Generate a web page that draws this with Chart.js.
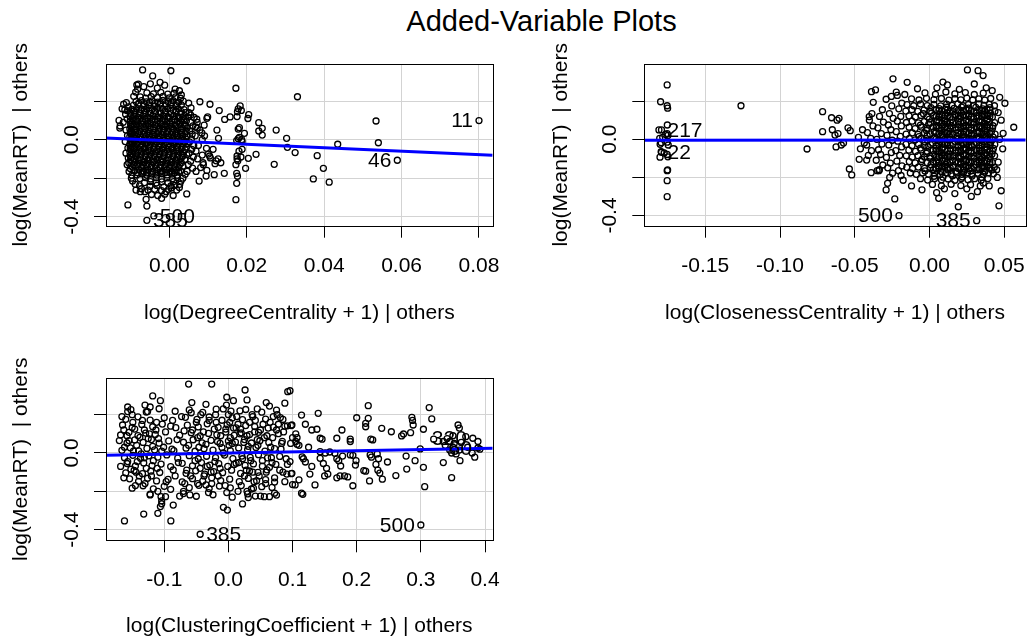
<!DOCTYPE html>
<html>
<head>
<meta charset="utf-8">
<script src="https://cdn.jsdelivr.net/npm/chart.js@4.4.1/dist/chart.umd.min.js"></script>
<style>
  html, body { margin: 0; padding: 0; background: #fff; }
  body { width: 1031px; height: 639px; position: relative; overflow: hidden; font-family: "Liberation Sans", Arial, sans-serif; }
  canvas { position: absolute; left: 0; top: 0; }
  #title { position: absolute; left: 0; top: 7px; width: 1083px; text-align: center; font-size: 29px; line-height: 1; color: #000; }
</style>
</head>
<body>
<div id="title">Added-Variable Plots</div>
<canvas id="degree" width="1031" height="639"></canvas>
<canvas id="closeness" width="1031" height="639"></canvas>
<canvas id="clustering" width="1031" height="639"></canvas>
<script>
const FONT = "'Liberation Sans', Arial, sans-serif";
Chart.defaults.font.family = FONT;

const yTitle = 'log(MeanRT)  | others';
const yTicks = [-0.4, -0.2, 0, 0.2];
const yTickLabels = ['-0.4', '', '0.0', ''];

// ---- log(DegreeCentrality + 1) | others
const degreeTicks = [0, 0.02, 0.04, 0.06, 0.08];
const degreeTickLabels = ['0.00', '0.02', '0.04', '0.06', '0.08'];
const degreeFit = [[-0.0164, 0.009], [0.0835, -0.081]];
const degreeIds = [
  { id: '11', x: 0.080, y: 0.099 }, { id: '46', x: 0.0589, y: -0.107 },
  { id: '500', x: -0.0040, y: -0.396 }, { id: '385', x: -0.0058, y: -0.419 }
];
const degreePoints = [
  [-0.0058,0.243],[-0.0041,0.238],[-0.0022,0.246],[-0.0004,0.236],[0.0012,0.241],
  [-0.0075,0.222],[-0.0061,0.216],[-0.0047,0.224],[-0.0031,0.218],[-0.0016,0.225],[0.0000,0.217],[0.0016,0.222],[0.0029,0.215],
  [-0.0086,0.198],[-0.0072,0.203],[-0.0059,0.196],[-0.0044,0.201],[-0.0030,0.195],[-0.0017,0.204],[-0.0003,0.197],[0.0010,0.202],[0.0024,0.195],[0.0036,0.2],
  [-0.0093,0.178],[-0.0080,0.183],[-0.0066,0.176],[-0.0052,0.181],[-0.0038,0.175],[-0.0024,0.184],[-0.0010,0.177],[0.0004,0.182],[0.0018,0.176],[0.0031,0.181],
  [-0.0097,0.157],[-0.0085,0.162],[-0.0072,0.155],[-0.0059,0.161],[-0.0045,0.156],[-0.0031,0.163],[-0.0017,0.157],[-0.0004,0.161],[0.0010,0.154],[0.0024,0.16],[0.0038,0.156],
  [-0.0100,0.137],[-0.0088,0.142],[-0.0075,0.135],[-0.0062,0.141],[-0.0049,0.136],[-0.0036,0.143],[-0.0023,0.137],[-0.0010,0.141],[0.0004,0.135],[0.0017,0.142],[0.0030,0.137],[0.0042,0.14],
  [-0.0101,0.118],[-0.0092,0.123],[-0.0080,0.116],[-0.0067,0.121],[-0.0055,0.115],[-0.0042,0.122],[-0.0029,0.117],[-0.0016,0.123],[-0.0003,0.116],[0.0010,0.121],[0.0023,0.115],[0.0036,0.12],
  [-0.0101,0.097],[-0.0093,0.102],[-0.0081,0.095],[-0.0069,0.101],[-0.0056,0.096],[-0.0044,0.103],[-0.0031,0.097],[-0.0018,0.101],[-0.0006,0.094],[0.0007,0.1],[0.0020,0.095],[0.0032,0.102],[0.0044,0.097],
  [-0.0100,0.078],[-0.0095,0.083],[-0.0084,0.076],[-0.0072,0.081],[-0.0060,0.075],[-0.0048,0.082],[-0.0036,0.077],[-0.0023,0.083],[-0.0011,0.076],[0.0001,0.081],[0.0014,0.075],[0.0027,0.08],[0.0039,0.077],
  [-0.0102,0.057],[-0.0096,0.062],[-0.0085,0.055],[-0.0073,0.061],[-0.0061,0.056],[-0.0049,0.063],[-0.0037,0.057],[-0.0025,0.061],[-0.0013,0.054],[-0.0001,0.06],[0.0011,0.055],[0.0023,0.062],[0.0035,0.057],[0.0046,0.06],
  [-0.0101,0.038],[-0.0097,0.043],[-0.0087,0.036],[-0.0076,0.041],[-0.0064,0.035],[-0.0052,0.042],[-0.0040,0.037],[-0.0028,0.043],[-0.0016,0.036],[-0.0004,0.041],[0.0008,0.035],[0.0020,0.04],[0.0032,0.037],[0.0043,0.042],
  [-0.0102,0.017],[-0.0096,0.022],[-0.0085,0.015],[-0.0074,0.021],[-0.0062,0.016],[-0.0050,0.023],[-0.0038,0.017],[-0.0026,0.021],[-0.0014,0.014],[-0.0002,0.02],[0.0010,0.015],[0.0022,0.022],[0.0034,0.017],[0.0046,0.02],
  [-0.0101,-0.002],[-0.0097,0.003],[-0.0087,-0.004],[-0.0076,0.001],[-0.0064,-0.005],[-0.0052,0.002],[-0.0040,-0.003],[-0.0028,0.003],[-0.0016,-0.004],[-0.0004,0.001],[0.0008,-0.005],[0.0020,0.0],[0.0032,-0.003],[0.0043,0.002],
  [-0.0102,-0.023],[-0.0095,-0.018],[-0.0084,-0.025],[-0.0073,-0.019],[-0.0061,-0.024],[-0.0049,-0.017],[-0.0037,-0.023],[-0.0025,-0.019],[-0.0013,-0.026],[-0.0001,-0.02],[0.0011,-0.025],[0.0023,-0.018],[0.0035,-0.023],[0.0046,-0.02],
  [-0.0101,-0.042],[-0.0096,-0.037],[-0.0086,-0.044],[-0.0075,-0.039],[-0.0063,-0.045],[-0.0051,-0.038],[-0.0039,-0.043],[-0.0027,-0.037],[-0.0015,-0.044],[-0.0003,-0.039],[0.0009,-0.045],[0.0021,-0.04],[0.0033,-0.043],[0.0044,-0.038],
  [-0.0102,-0.063],[-0.0094,-0.058],[-0.0083,-0.065],[-0.0072,-0.059],[-0.0060,-0.064],[-0.0048,-0.057],[-0.0036,-0.063],[-0.0024,-0.059],[-0.0012,-0.066],[0.0000,-0.06],[0.0012,-0.065],[0.0024,-0.058],[0.0036,-0.063],
  [-0.0101,-0.082],[-0.0094,-0.077],[-0.0084,-0.084],[-0.0073,-0.079],[-0.0061,-0.085],[-0.0049,-0.078],[-0.0037,-0.083],[-0.0025,-0.077],[-0.0013,-0.084],[-0.0001,-0.079],[0.0011,-0.085],[0.0023,-0.08],[0.0035,-0.083],[0.0045,-0.078],
  [-0.0100,-0.103],[-0.0091,-0.098],[-0.0080,-0.105],[-0.0068,-0.099],[-0.0056,-0.104],[-0.0044,-0.097],[-0.0032,-0.103],[-0.0020,-0.099],[-0.0008,-0.106],[0.0004,-0.1],[0.0016,-0.105],[0.0028,-0.098],[0.0040,-0.103],
  [-0.0099,-0.122],[-0.0088,-0.117],[-0.0077,-0.124],[-0.0065,-0.119],[-0.0053,-0.125],[-0.0041,-0.118],[-0.0029,-0.123],[-0.0017,-0.117],[-0.0005,-0.124],[0.0007,-0.119],[0.0019,-0.125],[0.0031,-0.12],
  [-0.0095,-0.143],[-0.0084,-0.138],[-0.0072,-0.145],[-0.0060,-0.139],[-0.0048,-0.144],[-0.0036,-0.137],[-0.0024,-0.143],[-0.0012,-0.139],[0.0000,-0.146],[0.0012,-0.14],[0.0024,-0.145],[0.0035,-0.138],
  [-0.0090,-0.162],[-0.0078,-0.157],[-0.0066,-0.164],[-0.0054,-0.159],[-0.0042,-0.165],[-0.0030,-0.158],[-0.0018,-0.163],[-0.0006,-0.157],[0.0006,-0.164],[0.0018,-0.159],[0.0029,-0.163],
  [-0.0084,-0.183],[-0.0071,-0.178],[-0.0058,-0.185],[-0.0045,-0.179],[-0.0032,-0.184],[-0.0019,-0.177],[-0.0006,-0.183],[0.0007,-0.179],[0.0020,-0.185],
  [-0.0076,-0.202],[-0.0062,-0.197],[-0.0048,-0.204],[-0.0034,-0.198],[-0.0020,-0.205],[-0.0006,-0.199],[0.0008,-0.203],[0.0021,-0.197],
  [-0.0064,-0.223],[-0.0049,-0.218],[-0.0034,-0.225],[-0.0019,-0.219],[-0.0004,-0.224],[0.0011,-0.218],
  [-0.0050,-0.242],[-0.0032,-0.238],[-0.0014,-0.245],[0.0004,-0.24],
  [-0.0079,0.19],[-0.0065,0.187],[-0.0051,0.192],[-0.0037,0.188],[-0.0023,0.191],[-0.0009,0.187],[0.0005,0.192],[0.0019,0.188],
  [-0.0091,0.149],[-0.0078,0.146],[-0.0065,0.151],[-0.0052,0.147],[-0.0038,0.152],[-0.0024,0.146],[-0.0011,0.15],[0.0003,0.147],[0.0017,0.151],[0.0031,0.146],
  [-0.0096,0.109],[-0.0086,0.106],[-0.0074,0.111],[-0.0062,0.107],[-0.0049,0.112],[-0.0037,0.106],[-0.0024,0.11],[-0.0012,0.107],[0.0001,0.111],[0.0014,0.106],[0.0026,0.11],[0.0038,0.107],
  [-0.0098,0.069],[-0.009,0.066],[-0.0078,0.071],[-0.0066,0.067],[-0.0054,0.072],[-0.0042,0.066],[-0.003,0.07],[-0.0018,0.067],[-0.0006,0.071],[0.0006,0.066],[0.0018,0.07],[0.003,0.067],[0.0041,0.071],
  [-0.0099,0.029],[-0.0091,0.026],[-0.008,0.031],[-0.0068,0.027],[-0.0056,0.032],[-0.0044,0.026],[-0.0032,0.03],[-0.002,0.027],[-0.0008,0.031],[0.0004,0.026],[0.0016,0.03],[0.0028,0.027],[0.004,0.031],
  [-0.0099,-0.011],[-0.0091,-0.008],[-0.008,-0.013],[-0.0068,-0.009],[-0.0056,-0.014],[-0.0044,-0.008],[-0.0032,-0.012],[-0.002,-0.009],[-0.0008,-0.013],[0.0004,-0.008],[0.0016,-0.012],[0.0028,-0.009],[0.004,-0.013],
  [-0.0099,-0.051],[-0.009,-0.048],[-0.0078,-0.053],[-0.0066,-0.049],[-0.0054,-0.054],[-0.0042,-0.048],[-0.003,-0.052],[-0.0018,-0.049],[-0.0006,-0.053],[0.0006,-0.048],[0.0018,-0.052],[0.003,-0.049],[0.0041,-0.053],
  [-0.0097,-0.091],[-0.0087,-0.088],[-0.0075,-0.093],[-0.0063,-0.089],[-0.0051,-0.094],[-0.0039,-0.088],[-0.0027,-0.092],[-0.0015,-0.089],[-0.0003,-0.093],[0.0009,-0.088],[0.0021,-0.092],[0.0033,-0.089],
  [-0.0093,-0.131],[-0.0082,-0.128],[-0.007,-0.133],[-0.0058,-0.129],[-0.0046,-0.134],[-0.0034,-0.128],[-0.0022,-0.132],[-0.001,-0.129],[0.0002,-0.133],[0.0014,-0.128],[0.0026,-0.132],
  [-0.0083,-0.171],[-0.0071,-0.168],[-0.0059,-0.173],[-0.0047,-0.169],[-0.0035,-0.174],[-0.0023,-0.168],[-0.0011,-0.172],[0.0001,-0.169],[0.0013,-0.173],[0.0024,-0.168],
  [-0.0082,0.262],[-0.0066,0.275],[-0.0031,0.268],[-0.0012,0.283],[0.0015,0.262],[0.0026,0.254],[-0.0049,0.29],[0.0031,0.232],[-0.0087,0.247],[-0.0092,0.225],
  [-0.0111,0.192],[-0.0118,0.184],[-0.0106,0.17],[-0.0113,0.132],[-0.0109,0.108],[-0.0119,0.09],[-0.0112,0.05],[-0.0108,0.021],[-0.0114,-0.01],[-0.0107,-0.044],
  [-0.0112,-0.07],[-0.0106,-0.095],[-0.0109,-0.13],[-0.0104,-0.165],[-0.0097,-0.185],[-0.0095,-0.215],[-0.0088,-0.232],
  [0.0050,0.19],[0.0056,0.165],[0.0048,0.118],[0.0055,0.09],[0.0061,0.072],[0.0053,0.045],[0.0059,0.028],[0.0057,0.004],[0.0052,-0.012],[0.0063,-0.03],
  [0.0058,-0.05],[0.0051,-0.07],[0.0062,-0.09],[0.0055,-0.112],[0.0049,-0.13],[0.0060,-0.148],[0.0046,-0.165],[0.0041,-0.18],[0.0035,-0.2],[0.0030,-0.215],
  [0.0069,-0.06],[0.0073,-0.1],[0.0067,0.02],[0.0075,-0.03],[0.0081,-0.145],[0.0069,-0.165],[0.0088,-0.13],[0.0064,0.115],[0.0072,0.09],[0.0090,0.075],
  [0.0084,0.035],[0.0096,-0.045],[0.0101,-0.075],[0.0106,-0.095],[0.0113,-0.05],[0.0091,0.02],[0.0118,-0.125],[0.0097,-0.16],
  [-0.0072,-0.255],[-0.0055,-0.262],[-0.0038,-0.258],[-0.0020,-0.265],[-0.0002,-0.258],[0.0014,-0.238],[0.0019,-0.262],[-0.0046,-0.285],[-0.0030,-0.29],[-0.0012,-0.283],[0.0010,-0.29],[-0.0086,-0.262],[0.0026,-0.248],
  [-0.0069,0.362],[0.0004,0.358],[-0.0043,0.331],[-0.0024,0.298],[0.0045,0.306],[0.0172,0.267],[0.0331,0.223],[0.0079,0.197],[0.0105,0.184],[0.0129,0.151],
  [0.0183,0.175],[0.0178,0.16],[0.0176,0.145],[0.0186,0.152],[0.0205,0.13],[0.0203,0.11],[0.0097,0.111],[0.0099,0.118],[0.0071,0.106],[0.0051,0.14],
  [0.0055,0.128],[0.0231,0.088],[0.0240,0.059],[0.0240,0.024],[0.0231,0.045],[0.0276,0.050],[0.0303,0.007],[0.0305,-0.040],[0.0325,-0.067],[0.0435,-0.024],
  [0.0382,-0.083],[0.0398,-0.149],[0.0372,-0.204],[0.0413,-0.221],[0.0271,-0.128],[0.0534,0.097],[0.0540,-0.016],[0.0589,-0.107],[0.080,0.099],[0.0224,-0.076],
  [0.0197,-0.149],[0.0204,-0.097],[0.0185,-0.09],[0.0177,-0.11],[0.0175,-0.085],[0.0180,-0.06],[0.0188,-0.05],[0.0175,-0.1],[0.0178,0.005],[0.0181,0.012],
  [0.0187,0.0],[0.0174,-0.005],[0.0188,-0.01],[0.0194,0.033],[0.0178,0.055],[0.0181,0.062],[0.0174,-0.175],[0.0176,-0.19],[0.0174,-0.227],[0.0172,-0.312],
  [0.0172,-0.13],[0.0116,-0.182],[0.0142,-0.175],[0.0095,-0.189],[0.0077,-0.215],[0.0045,-0.282],[0.0126,-0.10],[0.0133,-0.12],[0.0121,-0.11],[0.0087,-0.12],
  [0.0104,-0.085],[0.0085,-0.08],[0.0127,0.007],[0.0123,0.05],[0.0085,0.0],[0.0079,0.05],[0.0072,0.06],[0.0068,0.066],[0.0143,0.105],[0.0157,0.118],
  [0.0175,0.12],[-0.0107,-0.339],[-0.0127,0.071],[-0.0122,0.16],[-0.0115,0.155],[-0.0108,0.15],[-0.0084,0.284],[-0.0080,0.288],[-0.0060,-0.31],[-0.0058,-0.345],
  [-0.0075,-0.27],[-0.0063,-0.27],[-0.0077,-0.24],[-0.0020,-0.305],[-0.0008,-0.27],[0.0006,-0.25],[0.0027,-0.232],[-0.0105,-0.12],[-0.0101,-0.15],[-0.0098,-0.20],
  [-0.0058,-0.419],[-0.0040,-0.396],[-0.0128,0.06],[-0.0130,0.1]
];

// ---- log(ClosenessCentrality + 1) | others
const closenessTicks = [-0.15, -0.10, -0.05, 0, 0.05];
const closenessTickLabels = ['-0.15', '-0.10', '-0.05', '0.00', '0.05'];
const closenessFit = [[-0.1908, -0.005], [0.0644, -0.004]];
const closenessIds = [
  { id: '217', x: -0.1793, y: 0.049 }, { id: '22', x: -0.1793, y: -0.068 },
  { id: '500', x: -0.0204, y: -0.401 }, { id: '385', x: 0.0316, y: -0.427 }
];
const closenessPoints = [
  [-0.003,0.243],[0.004,0.236],[0.011,0.248],[0.017,0.238],[0.024,0.245],[0.030,0.235],[0.036,0.242],
  [-0.012,0.212],[-0.007,0.206],[-0.002,0.215],[0.003,0.208],[0.008,0.214],[0.013,0.205],[0.017,0.213],[0.021,0.207],[0.025,0.216],[0.029,0.206],[0.033,0.212],[0.037,0.205],[0.041,0.214],
  [-0.015,0.182],[-0.0105,0.176],[-0.006,0.185],[-0.0015,0.177],[0.003,0.183],[0.0075,0.175],[0.0115,0.184],[0.015,0.178],[0.019,0.186],[0.0225,0.176],[0.026,0.182],[0.0295,0.177],[0.033,0.185],[0.0365,0.178],[0.040,0.183],[0.0435,0.176],
  [-0.0158,0.148],[-0.0118,0.155],[-0.0078,0.146],[-0.0036,0.153],[0.0004,0.147],[0.0044,0.156],[0.0082,0.149],[0.0121,0.154],[0.0156,0.145],[0.0192,0.152],[0.0229,0.147],[0.0264,0.155],[0.0297,0.146],[0.0334,0.153],[0.0369,0.148],[0.0404,0.154],[0.0438,0.147],
  [-0.0137,0.123],[-0.0094,0.117],[-0.0056,0.125],[-0.0014,0.118],[0.0026,0.124],[0.0063,0.116],[0.0103,0.122],[0.0138,0.117],[0.0176,0.126],[0.0209,0.118],[0.0246,0.123],[0.0279,0.116],[0.0316,0.124],[0.0349,0.119],[0.0386,0.125],[0.0421,0.117],
  [-0.0154,0.088],[-0.0116,0.095],[-0.0074,0.086],[-0.0034,0.093],[0.0006,0.087],[0.0046,0.094],[0.0084,0.085],[0.0119,0.092],[0.0158,0.087],[0.0194,0.095],[0.0227,0.086],[0.0262,0.093],[0.0299,0.088],[0.0332,0.094],[0.0367,0.085],[0.0402,0.092],[0.0436,0.087],
  [-0.0136,0.063],[-0.0096,0.056],[-0.0054,0.064],[-0.0016,0.057],[0.0024,0.065],[0.0065,0.058],[0.0101,0.063],[0.0140,0.055],[0.0174,0.062],[0.0211,0.057],[0.0244,0.066],[0.0281,0.058],[0.0314,0.063],[0.0351,0.056],[0.0384,0.064],[0.0422,0.058],
  [-0.0156,0.027],[-0.0114,0.034],[-0.0076,0.026],[-0.0033,0.033],[0.0005,0.028],[0.0043,0.035],[0.0085,0.026],[0.0120,0.032],[0.0155,0.027],[0.0195,0.034],[0.0228,0.025],[0.0265,0.033],[0.0298,0.028],[0.0333,0.035],[0.0370,0.026],[0.0403,0.033],[0.0439,0.027],
  [-0.0134,0.004],[-0.0095,-0.003],[-0.0057,0.005],[-0.0013,-0.004],[0.0027,0.003],[0.0062,-0.005],[0.0104,0.002],[0.0137,-0.003],[0.0177,0.005],[0.0208,-0.004],[0.0247,0.003],[0.0278,-0.002],[0.0317,0.004],[0.0348,-0.005],[0.0387,0.002],[0.0420,-0.003],
  [-0.0157,-0.027],[-0.0117,-0.034],[-0.0073,-0.026],[-0.0035,-0.033],[0.0007,-0.028],[0.0045,-0.035],[0.0083,-0.025],[0.0122,-0.032],[0.0157,-0.027],[0.0191,-0.034],[0.0230,-0.026],[0.0263,-0.033],[0.0300,-0.028],[0.0331,-0.035],[0.0368,-0.026],[0.0405,-0.032],[0.0437,-0.027],
  [-0.0138,-0.057],[-0.0093,-0.064],[-0.0055,-0.056],[-0.0015,-0.063],[0.0025,-0.058],[0.0064,-0.065],[0.0102,-0.056],[0.0139,-0.062],[0.0175,-0.057],[0.0210,-0.064],[0.0245,-0.055],[0.0280,-0.063],[0.0315,-0.058],[0.0350,-0.064],[0.0385,-0.056],[0.0423,-0.062],
  [-0.0155,-0.087],[-0.0115,-0.094],[-0.0077,-0.086],[-0.0034,-0.093],[0.0004,-0.088],[0.0046,-0.095],[0.0082,-0.085],[0.0121,-0.092],[0.0158,-0.087],[0.0193,-0.094],[0.0229,-0.086],[0.0262,-0.093],[0.0298,-0.088],[0.0334,-0.095],[0.0367,-0.086],[0.0404,-0.092],[0.0436,-0.087],
  [-0.0135,-0.117],[-0.0096,-0.124],[-0.0054,-0.116],[-0.0014,-0.123],[0.0026,-0.118],[0.0063,-0.125],[0.0103,-0.116],[0.0138,-0.122],[0.0176,-0.117],[0.0209,-0.124],[0.0246,-0.115],[0.0279,-0.123],[0.0316,-0.118],[0.0349,-0.125],[0.0386,-0.116],[0.0421,-0.122],
  [-0.0152,-0.147],[-0.0113,-0.154],[-0.0075,-0.146],[-0.0033,-0.153],[0.0006,-0.148],[0.0044,-0.155],[0.0084,-0.146],[0.0120,-0.152],[0.0156,-0.147],[0.0194,-0.154],[0.0228,-0.145],[0.0263,-0.153],[0.0299,-0.148],[0.0332,-0.155],[0.0368,-0.146],[0.0402,-0.152],[0.0434,-0.147],
  [-0.0128,-0.177],[-0.0088,-0.184],[-0.0046,-0.176],[-0.0006,-0.183],[0.0033,-0.178],[0.0072,-0.185],[0.0110,-0.176],[0.0146,-0.182],[0.0183,-0.177],[0.0217,-0.184],[0.0254,-0.175],[0.0288,-0.183],[0.0324,-0.178],[0.0360,-0.184],[0.0396,-0.176],[0.0428,-0.181],
  [-0.0060,-0.207],[-0.0012,-0.214],[0.0035,-0.206],[0.0080,-0.213],[0.0125,-0.208],[0.0170,-0.215],[0.0214,-0.206],[0.0258,-0.212],[0.0302,-0.207],[0.0347,-0.214],[0.0391,-0.206],
  [0.002,-0.237],[0.008,-0.244],[0.0145,-0.236],[0.021,-0.243],[0.0275,-0.238],[0.034,-0.245],
  [0.001,0.166],[0.0065,0.161],[0.0115,0.168],[0.0165,0.162],[0.0215,0.169],[0.0262,0.163],[0.031,0.167],[0.0357,0.16],[0.0405,0.166],
  [-0.004,0.134],[0.0015,0.139],[0.0068,0.132],[0.0118,0.138],[0.0168,0.131],[0.0213,0.137],[0.0264,0.133],[0.0312,0.14],[0.0358,0.132],[0.0408,0.137],
  [0.000,0.106],[0.0052,0.1],[0.0101,0.108],[0.0148,0.102],[0.0199,0.109],[0.0247,0.101],[0.0295,0.107],[0.0342,0.1],[0.039,0.105],
  [-0.006,0.074],[-0.0005,0.079],[0.0048,0.072],[0.0097,0.078],[0.0146,0.071],[0.0195,0.077],[0.0243,0.073],[0.0291,0.08],[0.0339,0.072],[0.0388,0.077],[0.0425,0.071],
  [-0.002,0.046],[0.0032,0.04],[0.0081,0.048],[0.013,0.041],[0.018,0.049],[0.0228,0.042],[0.0277,0.047],[0.0324,0.04],[0.0372,0.046],[0.0415,0.041],
  [-0.007,0.014],[-0.0015,0.019],[0.0035,0.012],[0.0087,0.018],[0.0135,0.011],[0.0186,0.017],[0.0233,0.013],[0.0283,0.02],[0.0329,0.012],[0.0378,0.017],[0.0426,0.011],
  [-0.003,-0.014],[0.002,-0.02],[0.007,-0.012],[0.012,-0.018],[0.017,-0.011],[0.0218,-0.019],[0.0267,-0.013],[0.0315,-0.02],[0.0362,-0.012],[0.041,-0.017],
  [-0.006,-0.046],[-0.001,-0.04],[0.0043,-0.048],[0.0092,-0.041],[0.0141,-0.049],[0.019,-0.042],[0.0238,-0.047],[0.0286,-0.04],[0.0334,-0.046],[0.0382,-0.041],[0.0428,-0.048],
  [-0.002,-0.074],[0.003,-0.079],[0.008,-0.072],[0.013,-0.078],[0.018,-0.071],[0.0228,-0.077],[0.0277,-0.073],[0.0325,-0.08],[0.0373,-0.072],[0.0418,-0.078],
  [-0.005,-0.106],[0.0005,-0.1],[0.0055,-0.108],[0.0104,-0.101],[0.0152,-0.109],[0.0201,-0.102],[0.0249,-0.107],[0.0297,-0.1],[0.0345,-0.106],[0.0393,-0.101],
  [0.001,-0.134],[0.006,-0.139],[0.011,-0.132],[0.016,-0.138],[0.021,-0.131],[0.0258,-0.137],[0.0307,-0.133],[0.0355,-0.14],[0.0403,-0.132],
  [-0.003,-0.166],[0.0025,-0.16],[0.0075,-0.168],[0.0126,-0.161],[0.0177,-0.169],[0.0226,-0.162],[0.0275,-0.167],[0.0324,-0.16],[0.0372,-0.166],[0.0418,-0.161],
  [0.003,-0.194],[0.009,-0.199],[0.0155,-0.192],[0.022,-0.198],[0.0285,-0.193],[0.035,-0.2],
  [0.0063,0.151],[0.0139,0.15],[0.021,0.152],[0.028,0.149],[0.0351,0.151],[0.0105,0.158],[0.0245,0.157],[0.0385,0.158],
  [0.0045,0.121],[0.012,0.12],[0.0193,0.121],[0.0262,0.12],[0.0333,0.121],[0.0404,0.12],[0.0085,0.128],[0.0228,0.128],[0.0368,0.129],
  [0.0063,0.091],[0.0139,0.09],[0.021,0.091],[0.028,0.09],[0.0351,0.091],[0.0105,0.098],[0.0245,0.097],[0.0385,0.098],
  [0.0045,0.061],[0.012,0.06],[0.0193,0.061],[0.0262,0.06],[0.0333,0.061],[0.0404,0.06],[0.0085,0.068],[0.0228,0.067],[0.0368,0.068],
  [0.0063,0.031],[0.0139,0.03],[0.021,0.031],[0.028,0.03],[0.0351,0.031],[0.0105,0.038],[0.0245,0.037],[0.0385,0.038],
  [0.0045,0.001],[0.012,0.0],[0.0193,0.001],[0.0262,0.0],[0.0333,0.001],[0.0404,0.0],[0.0085,0.008],[0.0228,0.007],[0.0368,0.008],
  [0.0063,-0.029],[0.0139,-0.03],[0.021,-0.029],[0.028,-0.03],[0.0351,-0.029],[0.0105,-0.022],[0.0245,-0.023],[0.0385,-0.022],
  [0.0045,-0.059],[0.012,-0.06],[0.0193,-0.059],[0.0262,-0.06],[0.0333,-0.059],[0.0404,-0.06],[0.0085,-0.052],[0.0228,-0.053],[0.0368,-0.052],
  [0.0063,-0.089],[0.0139,-0.09],[0.021,-0.089],[0.028,-0.09],[0.0351,-0.089],[0.0105,-0.082],[0.0245,-0.083],[0.0385,-0.082],
  [0.0045,-0.119],[0.012,-0.12],[0.0193,-0.119],[0.0262,-0.12],[0.0333,-0.119],[0.0404,-0.12],[0.0085,-0.112],[0.0228,-0.113],[0.0368,-0.112],
  [0.0063,-0.149],[0.0139,-0.15],[0.021,-0.149],[0.028,-0.15],[0.0351,-0.149],[0.0105,-0.142],[0.0245,-0.143],[0.0385,-0.142],
  [0.0085,-0.172],[0.0228,-0.173],[0.0368,-0.172],
  [-0.0185,0.19],[-0.0205,0.16],[-0.0192,0.12],[-0.0215,0.095],[-0.0188,0.07],[-0.0222,0.04],[-0.0195,0.015],[-0.0212,-0.01],[-0.0186,-0.04],[-0.0225,-0.06],
  [-0.0199,-0.085],[-0.0218,-0.115],[-0.0184,-0.14],[-0.0207,-0.165],[-0.0190,-0.19],[-0.0176,-0.215],
  [-0.0252,0.175],[-0.0268,0.135],[-0.0243,0.11],[-0.0275,0.075],[-0.0258,0.05],[-0.0284,0.02],[-0.0249,-0.005],[-0.0272,-0.03],[-0.0255,-0.07],[-0.0288,-0.095],
  [-0.0262,-0.125],[-0.0279,-0.15],[-0.0247,-0.178],[-0.0266,-0.2],
  [-0.0315,0.155],[-0.0334,0.12],[-0.0308,0.09],[-0.0345,0.06],[-0.0322,0.03],[-0.0352,0.0],[-0.0318,-0.025],[-0.0341,-0.055],[-0.0327,-0.08],[-0.0356,-0.11],
  [-0.0312,-0.135],[-0.0338,-0.165],
  [-0.0385,0.135],[-0.0402,0.1],[-0.0378,0.07],[-0.0415,0.035],[-0.0393,0.005],[-0.0420,-0.03],[-0.0388,-0.06],[-0.0409,-0.085],[-0.0436,-0.02],[-0.0448,0.05],
  [-0.0462,-0.05],[-0.0475,0.01],
  [-0.1755,0.285],[-0.1799,0.197],[-0.1755,0.176],[-0.1752,0.163],[-0.1261,0.176],[-0.1754,0.075],[-0.181,0.049],[-0.1793,0.049],[-0.1755,0.03],[-0.1750,0.02],
  [-0.1765,0.025],[-0.1805,0.005],[-0.1785,0.01],[-0.1795,-0.018],[-0.1802,-0.026],[-0.1755,-0.015],[-0.1748,-0.03],[-0.1795,-0.065],[-0.1775,-0.072],[-0.1803,-0.094],
  [-0.1793,-0.068],[-0.1755,-0.08],[-0.1750,-0.092],[-0.1752,-0.161],[-0.1755,-0.165],[-0.1755,-0.217],[-0.1755,-0.301],
  [-0.0819,-0.051],[-0.0715,0.145],[-0.0715,0.04],[-0.0655,0.113],[-0.0605,0.11],[-0.0618,0.1],[-0.0650,0.05],[-0.0612,0.03],[-0.0632,0.022],[-0.0625,-0.04],
  [-0.0590,-0.03],[-0.0545,0.06],[-0.0530,0.045],[-0.0575,-0.02],[-0.0536,-0.156],[-0.0520,-0.187],[-0.0470,-0.105],[-0.0420,-0.109],[-0.0403,0.119],[-0.0388,0.25],
  [-0.0361,0.259],[-0.0376,0.194],[-0.0244,0.317],[-0.0149,0.299],[-0.0222,0.247],[-0.0215,0.23],[-0.0290,0.21],[-0.0255,0.225],[-0.0165,0.235],
  [0.0254,0.364],[0.0325,0.36],[0.0359,0.334],[0.0505,0.189],[0.0564,0.063],[0.0493,0.031],[0.0454,-0.2],[0.048,-0.27],[0.0465,-0.349],[0.0193,-0.354],
  [0.0321,-0.275],[0.0062,-0.31],[0.0048,-0.28],[-0.0232,-0.313],[-0.029,-0.266],[-0.028,-0.231],[-0.039,-0.175],[-0.035,-0.165],[-0.0335,-0.16],[-0.0204,-0.401],
  [0.0316,-0.427],
  [0.005,0.27],[0.012,0.285],[0.02,0.262],[0.03,0.29],[0.038,0.27],[0.042,0.255],[0.009,0.3],[-0.008,0.265],[0.047,0.22],[0.046,0.14],
  [0.048,0.1],[0.047,0.0],[0.049,-0.05],[0.046,-0.12],[0.045,-0.16],[0.01,-0.26],[0.017,-0.285],[0.025,-0.26],[0.04,-0.245],[-0.012,-0.245],
  [-0.005,-0.265],[0.028,-0.3],[0.036,-0.23]
];

// ---- log(ClusteringCoefficient + 1) | others
const clusteringTicks = [-0.1, 0, 0.1, 0.2, 0.3, 0.4];
const clusteringTickLabels = ['-0.1', '0.0', '0.1', '0.2', '0.3', '0.4'];
const clusteringFit = [[-0.1908, -0.012], [0.412, 0.0245]];
const clusteringIds = [
  { id: '385', x: -0.044, y: -0.4245 }, { id: '500', x: 0.300, y: -0.376 },
  { id: '320', x: 0.381, y: 0.077 }, { id: '60', x: 0.389, y: 0.026 }
];
const clusteringPoints = [
  [-0.152,0.226],[-0.128,0.214],[-0.108,0.231],[-0.083,0.218],[-0.061,0.225],[-0.040,0.212],[-0.019,0.229],[0.004,0.219],[0.027,0.227],[0.052,0.213],[0.075,0.224],
  [-0.160,0.176],[-0.141,0.189],[-0.122,0.172],[-0.100,0.184],[-0.087,0.17],[-0.067,0.186],[-0.049,0.175],[-0.030,0.188],[-0.010,0.171],[0.006,0.183],[0.022,0.174],[0.038,0.19],[0.058,0.177],[0.081,0.185],
  [-0.165,0.146],[-0.150,0.133],[-0.135,0.149],[-0.118,0.137],[-0.103,0.151],[-0.082,0.132],[-0.064,0.145],[-0.047,0.136],[-0.033,0.152],[-0.016,0.134],[-0.002,0.147],[0.012,0.131],[0.027,0.143],[0.041,0.138],[0.054,0.15],[0.070,0.135],[0.092,0.142],
  [-0.168,0.094],[-0.155,0.108],[-0.141,0.091],[-0.129,0.104],[-0.114,0.097],[-0.098,0.11],[-0.076,0.093],[-0.058,0.106],[-0.044,0.089],[-0.031,0.102],[-0.018,0.095],[-0.004,0.109],[0.009,0.092],[0.020,0.105],[0.033,0.096],[0.047,0.108],[0.060,0.09],[0.078,0.101],
  [-0.170,0.065],[-0.158,0.052],[-0.146,0.068],[-0.133,0.055],[-0.120,0.07],[-0.108,0.051],[-0.093,0.063],[-0.070,0.056],[-0.055,0.069],[-0.041,0.053],[-0.027,0.066],[-0.013,0.05],[0.000,0.062],[0.011,0.057],[0.025,0.07],[0.036,0.052],[0.049,0.064],[0.063,0.055],[0.084,0.061],
  [-0.166,0.014],[-0.153,0.027],[-0.140,0.011],[-0.127,0.024],[-0.115,0.016],[-0.101,0.03],[-0.085,0.012],[-0.066,0.025],[-0.052,0.009],[-0.038,0.022],[-0.024,0.015],[-0.010,0.028],[0.003,0.012],[0.016,0.026],[0.030,0.017],[0.043,0.029],[0.057,0.01],[0.072,0.023],
  [-0.162,-0.025],[-0.149,-0.012],[-0.137,-0.028],[-0.124,-0.015],[-0.110,-0.022],[-0.096,-0.01],[-0.079,-0.027],[-0.061,-0.014],[-0.047,-0.03],[-0.034,-0.017],[-0.020,-0.024],[-0.006,-0.011],[0.007,-0.029],[0.021,-0.016],[0.034,-0.023],[0.047,-0.009],[0.061,-0.026],[0.080,-0.018],
  [-0.158,-0.055],[-0.145,-0.068],[-0.132,-0.052],[-0.119,-0.066],[-0.105,-0.058],[-0.090,-0.071],[-0.072,-0.054],[-0.056,-0.067],[-0.042,-0.05],[-0.029,-0.063],[-0.015,-0.056],[-0.001,-0.07],[0.012,-0.053],[0.026,-0.065],[0.039,-0.057],[0.053,-0.069],[0.068,-0.051],
  [-0.160,-0.104],[-0.147,-0.091],[-0.134,-0.108],[-0.121,-0.095],[-0.107,-0.102],[-0.086,-0.089],[-0.066,-0.106],[-0.051,-0.093],[-0.037,-0.11],[-0.023,-0.097],[-0.009,-0.103],[0.005,-0.09],[0.019,-0.107],[0.033,-0.094],[0.046,-0.101],[0.060,-0.088],
  [-0.154,-0.135],[-0.140,-0.148],[-0.126,-0.132],[-0.112,-0.146],[-0.094,-0.138],[-0.072,-0.151],[-0.056,-0.134],[-0.040,-0.147],[-0.026,-0.13],[-0.012,-0.144],[0.002,-0.137],[0.017,-0.15],[0.031,-0.133],[0.044,-0.145],[0.058,-0.139],[0.072,-0.152],
  [-0.150,-0.184],[-0.133,-0.171],[-0.117,-0.187],[-0.100,-0.174],[-0.061,-0.181],[-0.046,-0.169],[-0.030,-0.186],[-0.014,-0.173],[0.003,-0.182],[0.020,-0.17],[0.036,-0.188],[0.052,-0.176],
  [-0.122,-0.215],[-0.098,-0.228],[-0.070,-0.212],[-0.050,-0.226],[-0.024,-0.218],[0.006,-0.231],[0.030,-0.214],[0.050,-0.225],
  [-0.146,0.125],[-0.138,0.082],[-0.131,0.12],[-0.143,0.04],[-0.125,0.075],[-0.136,-0.005],[-0.118,0.035],[-0.142,-0.045],[-0.128,-0.08],[-0.117,-0.04],
  [-0.152,-0.085],[-0.139,-0.12],[-0.113,0.12],[-0.12,-0.12],[-0.158,0.09],[-0.162,0.03],[-0.149,0.16],
  [-0.056,0.12],[-0.048,0.08],[-0.062,0.04],[-0.035,0.045],[-0.052,-0.04],[-0.044,-0.08],[-0.059,-0.12],[-0.038,-0.12],[-0.03,0.17],[-0.022,0.125],
  [-0.017,0.06],[-0.021,-0.045],[-0.013,-0.08],[-0.026,-0.16],
  [0.0,0.2],[0.002,0.16],[-0.004,0.125],[0.003,0.08],[0.001,0.04],[0.015,0.15],[0.018,0.1],[0.024,0.055],[0.016,-0.05],[0.028,-0.09],
  [0.037,0.2],[0.033,0.16],[0.041,0.11],[0.045,0.07],[0.035,-0.04],[0.048,-0.12],[0.062,0.13],[0.066,0.03],[0.058,-0.16],[0.07,0.19],[0.064,-0.075],
  [-0.163,0.12],[-0.155,0.065],[-0.148,0.01],[-0.157,-0.045],[-0.144,-0.1],[-0.131,-0.025],[-0.123,0.1],[-0.134,0.17],[-0.112,0.16],[-0.109,0.075],
  [-0.104,0.01],[-0.111,-0.08],[-0.097,-0.15],[-0.13,-0.16],[-0.145,-0.17],[-0.163,-0.13],[-0.168,-0.07],[-0.166,0.19],
  [-0.09,0.14],[-0.08,0.07],[-0.088,0.02],[-0.078,-0.05],[-0.083,-0.12],[-0.073,0.19],[-0.069,0.115],[-0.065,-0.09],[-0.068,-0.16],
  [-0.05,0.16],[-0.043,0.2],[-0.039,0.11],[-0.046,0.03],[-0.033,-0.07],[-0.048,-0.16],[-0.027,-0.1],[-0.019,0.16],[-0.012,0.09],[-0.008,0.0],
  [-0.016,-0.12],[-0.005,-0.17],[-0.008,0.23],
  [0.008,0.13],[0.006,0.05],[0.009,-0.06],[0.013,0.19],[0.019,0.125],[0.022,-0.03],[0.025,-0.12],[0.029,0.09],[0.031,0.035],[0.038,-0.1],
  [0.042,0.17],[0.04,-0.15],[0.046,0.04],[0.05,0.12],[0.053,-0.04],[0.056,0.08],[0.059,-0.1],[0.065,0.16],[0.067,-0.025],[0.069,0.08],
  [0.074,-0.06],[0.078,0.15],[0.072,-0.13],[0.083,0.05],[0.085,-0.1],[0.088,0.14],
  [-0.07,-0.2],[-0.09,-0.19],[-0.058,0.21],[-0.15,0.2],[-0.003,0.25],[0.018,0.22],[0.045,0.23],[-0.11,-0.2],[0.015,-0.2],[-0.02,0.2],
  [-0.062,0.36],[-0.026,0.36],[-0.118,0.298],[-0.106,0.273],[-0.157,0.24],[-0.157,0.216],[-0.130,0.25],[-0.122,0.24],[-0.126,0.216],[-0.057,0.263],
  [-0.035,0.254],[-0.0025,0.291],[0.0078,0.273],[0.026,0.329],[0.029,0.277],[0.059,0.263],[0.064,0.245],[0.0925,0.32],[0.088,0.26],
  [-0.162,-0.355],[-0.132,-0.319],[-0.110,-0.315],[-0.0897,-0.355],[-0.0078,-0.284],[-0.0016,-0.298],[-0.044,-0.4245],[-0.105,-0.228],[-0.104,-0.25],[-0.104,-0.265],
  [-0.106,-0.28],[-0.122,-0.219],[-0.086,-0.272],[-0.076,-0.225],[-0.060,-0.219],[-0.031,-0.207],[-0.035,-0.167],[-0.0025,-0.207],[0.022,-0.266],[0.031,-0.233],
  [0.029,-0.2],[0.042,-0.225],[0.039,-0.184],[0.056,-0.228],[0.064,-0.228],[0.075,-0.22],[0.068,-0.18],[0.072,-0.21],[0.091,-0.11],[0.098,-0.108],
  [0.10,-0.165],[0.114,-0.21],
  [0.076,0.2],[0.085,0.175],[0.098,0.143],[0.1,0.08],[0.105,0.06],[0.11,0.04],[0.114,0.198],[0.140,0.207],[0.099,0.146],[0.107,0.08],
  [0.107,0.045],[0.097,0.05],[0.096,0.325],
  [0.082,0.02],[0.09,-0.03],[0.086,0.11],[0.092,-0.06],[0.105,0.1],[0.12,0.15],[0.125,0.03],[0.13,-0.07],[0.088,-0.15],[0.11,-0.14],
  [0.075,0.12],[0.08,-0.09],
  [0.130,0.12],[0.138,0.124],[0.143,0.077],[0.146,0.072],[0.169,0.077],[0.177,0.12],[0.190,0.072],[0.190,0.06],[0.200,0.184],[0.218,0.247],
  [0.218,0.181],[0.214,0.155],[0.214,0.137],[0.222,0.072],[0.225,0.068],[0.239,0.129],[0.254,0.111],[0.270,0.089],[0.273,0.099],[0.286,0.186],
  [0.287,0.17],[0.288,0.146],[0.284,0.106],[0.304,0.124],[0.313,0.237],[0.317,0.178],[0.320,0.072],
  [0.335,0.06],[0.338,0.04],[0.345,0.06],[0.352,0.05],[0.36,0.015],[0.345,0.015],[0.35,0.09],[0.358,0.146],[0.36,0.13],[0.373,0.03],
  [0.389,0.06],[0.392,0.02],[0.348,0.0],[0.35,0.03],[0.363,0.055],[0.37,0.085],[0.341,0.075],[0.355,-0.005],[0.38,0.0],
  [0.384,-0.022],[0.361,-0.04],[0.348,-0.129],[0.335,-0.05],[0.299,0.021],[0.304,-0.075],[0.306,-0.176],[0.291,-0.04],[0.277,-0.016],[0.278,-0.084],
  [0.261,-0.118],[0.248,-0.047],[0.240,-0.137],[0.232,-0.005],[0.234,-0.03],[0.230,-0.06],[0.233,-0.09],[0.236,-0.105],[0.221,-0.01],[0.223,-0.022],
  [0.220,-0.146],[0.211,-0.092],[0.214,-0.095],[0.199,-0.04],[0.198,-0.063],[0.194,-0.171],[0.174,-0.12],[0.181,-0.12],[0.186,-0.125],[0.169,-0.13],
  [0.178,-0.016],[0.172,-0.04],[0.175,-0.068],[0.169,-0.03],[0.19,-0.01],[0.194,-0.012],[0.151,0.0],[0.158,0.005],[0.166,-0.002],[0.148,-0.055],
  [0.155,-0.11],[0.150,-0.12],[0.153,-0.08],[0.143,-0.028],[0.143,0.007],[0.135,-0.167],[0.127,-0.11],[0.115,-0.02],[0.12,-0.047],[0.117,-0.03],
  [0.116,-0.216],[0.104,-0.167],[0.099,-0.106],[0.096,-0.045],[0.300,-0.376],[0.381,0.077],[0.389,0.026]
];

// draws the R-style box, tick labels and point ids on top of the datasets
function rAxes(p) {
  return {
    id: 'rAxes',
    afterDatasetsDraw(chart) {
      const { ctx, chartArea: a } = chart;
      const xs = chart.scales.x, ys = chart.scales.y;
      ctx.save();
      ctx.strokeStyle = '#000';
      ctx.lineWidth = 1;
      const l = Math.round(a.left), t = Math.round(a.top);
      ctx.strokeRect(l + 0.5, t + 0.5, Math.round(a.right) - l, Math.round(a.bottom) - t);
      ctx.fillStyle = '#000';
      ctx.font = '21px ' + FONT;
      ctx.textAlign = 'center';
      ctx.textBaseline = 'alphabetic';
      p.xTicks.forEach((v, i) => ctx.fillText(p.xLabels[i], xs.getPixelForValue(v), a.bottom + 46));
      yTicks.forEach((v, i) => {
        if (!yTickLabels[i]) return;
        ctx.save();
        ctx.translate(a.left - 28, ys.getPixelForValue(v));
        ctx.rotate(-Math.PI / 2);
        ctx.fillText(yTickLabels[i], 0, 0);
        ctx.restore();
      });
      const mid = (xs.min + xs.max) / 2;
      ctx.textBaseline = 'middle';
      p.ids.forEach(d => {
        const px = xs.getPixelForValue(d.x), py = ys.getPixelForValue(d.y);
        const onLeft = d.x > mid;
        ctx.textAlign = onLeft ? 'right' : 'left';
        ctx.fillText(d.id, px + (onLeft ? -6 : 6), py + 1);
      });
      ctx.restore();
    }
  };
}

function drawPanel(canvasId, p) {
  const font = { family: FONT, size: 21, lineHeight: 1.2 };
  const grid = { color: '#d3d3d3', lineWidth: 1, tickColor: '#000', tickWidth: 1, tickLength: 12 };
  new Chart(document.getElementById(canvasId), {
    type: 'scatter',
    data: {
      datasets: [
        { data: p.fit.map(([x, y]) => ({ x, y })), showLine: true, borderColor: '#0000ff', borderWidth: 3, pointRadius: 0, order: 0 },
        { data: p.points.map(([x, y]) => ({ x, y })), pointRadius: 3.0, borderColor: '#000', borderWidth: 1.3, backgroundColor: 'rgba(0,0,0,0)', order: 1 }
      ]
    },
    options: {
      responsive: false,
      animation: false,
      events: [],
      layout: { padding: p.pad },
      plugins: { legend: { display: false }, tooltip: { enabled: false } },
      scales: {
        x: {
          type: 'linear', position: 'bottom', bounds: 'data',
          min: p.xRange[0], max: p.xRange[1],
          afterBuildTicks: s => { s.ticks = p.xTicks.map(v => ({ value: v })); },
          afterFit: s => { s.height = p.xAxisH; },
          ticks: { display: false },
          grid: grid,
          border: { display: false },
          title: { display: true, text: p.xTitle, font: font, color: '#000', padding: 0 }
        },
        y: {
          type: 'linear', position: 'left', bounds: 'data',
          min: p.yRange[0], max: p.yRange[1],
          afterBuildTicks: s => { s.ticks = yTicks.map(v => ({ value: v })); },
          afterFit: s => { s.width = p.yAxisW; },
          ticks: { display: false },
          grid: grid,
          border: { display: false },
          title: { display: true, text: yTitle, font: font, color: '#000', padding: 0 }
        }
      }
    },
    plugins: [rAxes(p)]
  });
}

drawPanel('degree', {
  points: degreePoints, fit: degreeFit, ids: degreeIds,
  xTicks: degreeTicks, xLabels: degreeTickLabels, xTitle: 'log(DegreeCentrality + 1) | others',
  xRange: [-0.01636, 0.08354], yRange: [-0.447, 0.393],
  pad: { left: 9.1, top: 64, right: 538.3, bottom: 313.4 }, xAxisH: 99.9, yAxisW: 96.9
});
drawPanel('closeness', {
  points: closenessPoints, fit: closenessFit, ids: closenessIds,
  xTicks: closenessTicks, xLabels: closenessTickLabels, xTitle: 'log(ClosenessCentrality + 1) | others',
  xRange: [-0.1908, 0.0644], yRange: [-0.4535, 0.395],
  pad: { left: 549.1, top: 64, right: 2, bottom: 313.4 }, xAxisH: 99.9, yAxisW: 95.2
});
drawPanel('clustering', {
  points: clusteringPoints, fit: clusteringFit, ids: clusteringIds,
  xTicks: clusteringTicks, xLabels: clusteringTickLabels, xTitle: 'log(ClusteringCoefficient + 1) | others',
  xRange: [-0.1908, 0.412], yRange: [-0.456, 0.39],
  pad: { left: 9.1, top: 378.3, right: 538.3, bottom: 0 }, xAxisH: 98.7, yAxisW: 96.9
});
</script>
</body>
</html>
